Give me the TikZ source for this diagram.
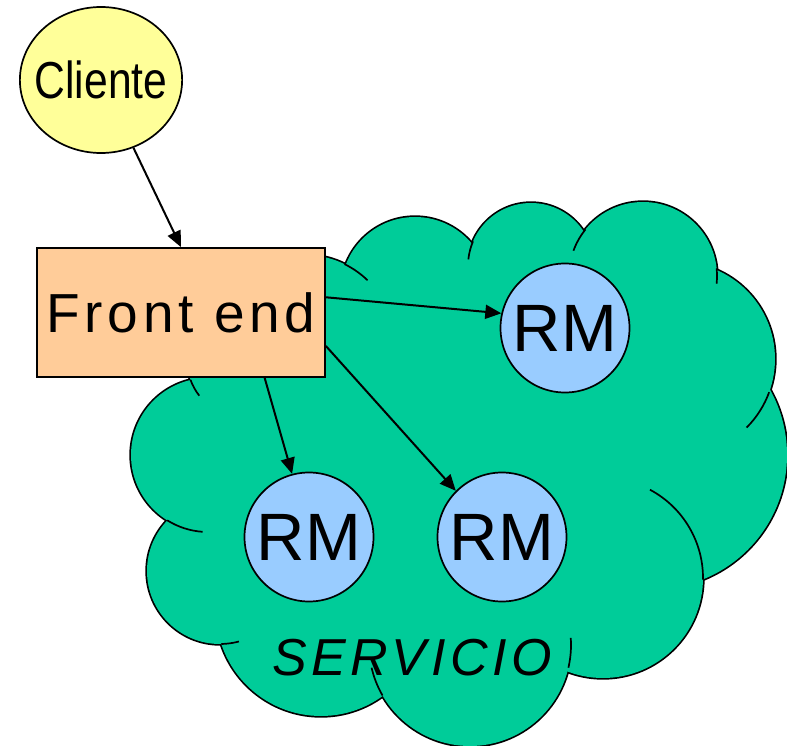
\documentclass[tikz,border=0pt]{standalone}
\usepackage{fontspec}
\usepackage{graphicx}
\setmainfont{Liberation Sans}
\newfontfamily\espaciada[LetterSpace=8.8]{Liberation Sans}
\usetikzlibrary{shapes.geometric, arrows.meta}

\definecolor{verdenube}{HTML}{00CC99}
\definecolor{amarillo}{HTML}{FFFF99}
\definecolor{naranja}{HTML}{FFCC99}
\definecolor{azulrm}{HTML}{99CCFF}

% lobulos de la nube: centro x / centro y / radio
\newcommand{\lobulos}{415/291/74, 531/266/63, 643/276/74, 678/359/97,
  653/455/134, 603/578/100, 470/645/101, 321/611/105, 220/571/73,
  208/455/77, 245/360/58, 305/345/90}

\begin{document}
\begin{tikzpicture}[x=1pt, y=1pt,
  nube/.style    = {fill=verdenube},
  borde/.style   = {draw=black, line width=3.4pt},
  pliegue/.style = {draw=black, line width=1.7pt},
  cli/.style     = {ellipse, draw=black, line width=1.7pt, fill=amarillo,
                    minimum width=162pt, minimum height=146pt,
                    inner xsep=-9pt, inner ysep=0pt,
                    font=\fontsize{52}{52}\selectfont},
  fe/.style      = {rectangle, draw=black, line width=1.7pt, fill=naranja,
                    minimum width=288pt, minimum height=129pt, inner sep=0pt,
                    font=\fontsize{55}{55}\selectfont\espaciada},
  rm/.style      = {circle, draw=black, line width=1.7pt, fill=azulrm,
                    minimum size=129pt, inner sep=0pt,
                    font=\fontsize{67}{67}\selectfont},
  rel/.style     = {-{Triangle[length=16pt, width=14pt]}, line width=2pt},
]
  \useasboundingbox (0,-746) rectangle (787,0);

  % nube: contorno de los lobulos y relleno encima
  \foreach \cx/\cy/\r in \lobulos
    \filldraw[nube, borde] (\cx,-\cy) circle[radius=\r];
  \foreach \cx/\cy/\r in \lobulos
    \fill[nube] (\cx,-\cy) circle[radius=\r];
  \fill[nube] (415,-291) -- (531,-266) -- (643,-276) -- (678,-359)
    -- (653,-455) -- (603,-578) -- (470,-645) -- (321,-611) -- (220,-571)
    -- (208,-455) -- (245,-360) -- (305,-345) -- cycle;

  % pliegues entre lobulos
  \draw[pliegue] (305,-345) ++(64:90)   arc[start angle=64,  end angle=46,  radius=90];
  \draw[pliegue] (531,-266) ++(157:63)  arc[start angle=157, end angle=174, radius=63];
  \draw[pliegue] (643,-276) ++(141:74)  arc[start angle=141, end angle=160, radius=74];
  \draw[pliegue] (643,-276) ++(6:74)    arc[start angle=6,   end angle=-6,  radius=74];
  \draw[pliegue] (678,-359) ++(-20:97)  arc[start angle=-20, end angle=-45, radius=97];
  \draw[pliegue] (603,-578) ++(62:100)  arc[start angle=62,  end angle=-1,  radius=100];
  \draw[pliegue] (470,-645) ++(4:101)   arc[start angle=4,   end angle=-13, radius=101];
  \draw[pliegue] (470,-645) ++(193:101) arc[start angle=193, end angle=210, radius=101];
  \draw[pliegue] (220,-571) ++(-89:73)  arc[start angle=-89, end angle=-75, radius=73];
  \draw[pliegue] (208,-455) ++(-122:77) arc[start angle=-122,end angle=-94, radius=77];
  \draw[pliegue] (245,-360) ++(200:58)  arc[start angle=200, end angle=218, radius=58];

  \node[font=\fontsize{52}{52}\selectfont\espaciada\itshape] (servicio) at (412,-658) {SERVICIO};

  \node[fe]  (frontend) at (181,-312.5) {Front end};
  \node[cli] (cliente)  at (101,-80)    {\scalebox{0.82}[1]{Cliente}};
  \node[rm]  (rmA)      at (565,-328)   {RM};
  \node[rm]  (rmB)      at (309,-537)   {RM};
  \node[rm]  (rmC)      at (502,-537)   {RM};

  \draw[rel] (cliente) -- (frontend.north);
  \draw[rel] (frontend.6)   -- (rmA.167);
  \draw[rel] (frontend.-38) -- (rmB.105);
  \draw[rel] (frontend.-13) -- (rmC.135);
\end{tikzpicture}
\end{document}
